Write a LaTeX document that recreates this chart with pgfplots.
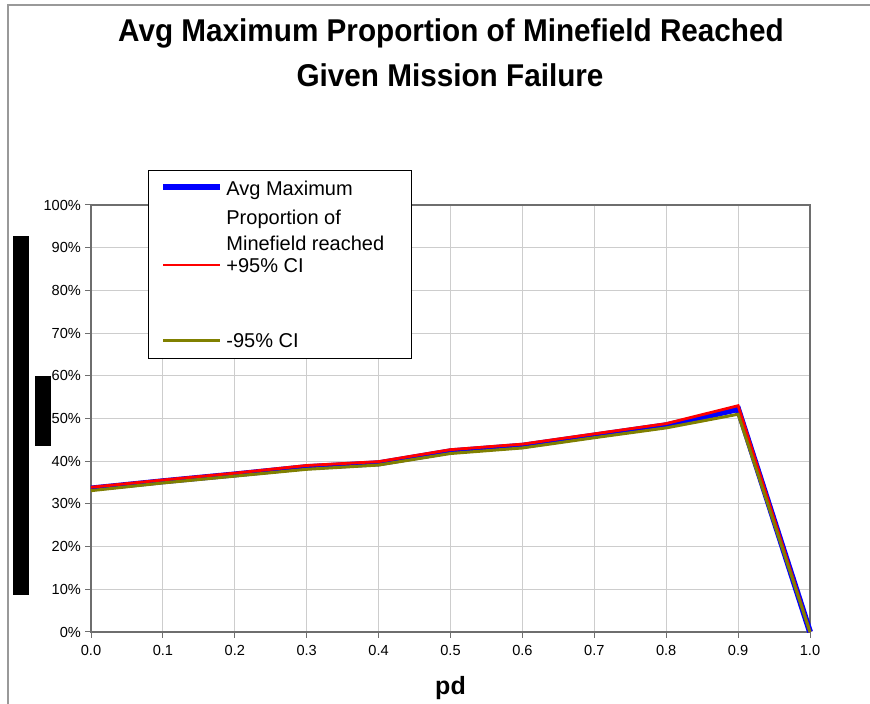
\documentclass[border=0pt]{standalone}
\usepackage{pgfplots}
\usepackage{pgfplotstable}
\pgfplotsset{compat=1.18}
\usepackage{fontspec}
\setmainfont{Liberation Sans}
\definecolor{olivecl}{RGB}{128,128,0}
\definecolor{framegray}{RGB}{110,110,110}
\definecolor{gridgray}{RGB}{205,205,205}

% pd, average, upper and lower 95% bound (percent)
\pgfplotstableread{
pd   avg   hi    lo
0.0  33.6  33.9  33.1
0.1  35.3  35.6  34.9
0.2  36.9  37.2  36.5
0.3  38.6  39.0  38.1
0.4  39.5  39.9  39.1
0.5  42.3  42.7  41.8
0.6  43.6  44.0  43.1
0.7  46.0  46.4  45.5
0.8  48.4  48.8  47.8
0.9  52.2  53.0  51.0
1.0  0.0   0.0   0.0
}\minedata

\begin{document}
\begin{tikzpicture}
\useasboundingbox (0,0) rectangle (435pt,352pt);
% outer chart frame (only top and left show)
\draw[gray!80, line width=0.75pt] (4pt,0) -- (4pt,349.5pt) -- (435pt,349.5pt);

% title
\node[font=\fontsize{15pt}{18pt}\selectfont\bfseries] at (225.5pt,335.5pt)
  {\scalebox{0.99}[1.05]{Avg Maximum Proportion of Minefield Reached}};
\node[font=\fontsize{15pt}{18pt}\selectfont\bfseries] at (225pt,314.5pt)
  {\scalebox{0.99}[1.05]{Given Mission Failure}};

\begin{axis}[
  at={(45.5pt,36pt)}, anchor=south west,
  scale only axis, width=359.5pt, height=213.5pt,
  xmin=0, xmax=1, ymin=0, ymax=100,
  clip=false,
  xtick={0,0.1,0.2,0.3,0.4,0.5,0.6,0.7,0.8,0.9,1},
  ytick={0,10,...,100},
  xticklabel style={/pgf/number format/.cd, fixed, fixed zerofill, precision=1},
  yticklabel={\pgfmathprintnumber{\tick}\%},
  yticklabel style={xshift=1.5pt},
  /pgf/number format/assume math mode=true,
  tick label style={font=\fontsize{7.3pt}{8.5pt}\selectfont},
  tick align=outside, major tick length=3pt,
  tick style={framegray, line width=0.5pt},
  xtick pos=bottom, ytick pos=left,
  grid=major, major grid style={gridgray, line width=0.5pt},
  axis line style={framegray, line width=1pt},
  xlabel={\textbf{pd}},
  xlabel style={font=\fontsize{12.5pt}{14pt}\selectfont, yshift=-3.5pt},
]
\addplot[blue, line width=3pt] table[x=pd, y=avg] {\minedata};
\addplot[red, line width=1.4pt] table[x=pd, y=hi] {\minedata};
\addplot[olivecl, line width=1.5pt] table[x=pd, y=lo] {\minedata};
\end{axis}

% legend
\draw[black, line width=0.5pt, fill=white] (74pt,172.5pt) rectangle (205.5pt,266.5pt);
\draw[blue, line width=3pt] (81.5pt,258.5pt) -- (110pt,258.5pt);
\draw[red, line width=1.3pt] (81.5pt,219.5pt) -- (110pt,219.5pt);
\draw[olivecl, line width=1.5pt] (81.5pt,181.5pt) -- (110pt,181.5pt);
\begin{scope}[every node/.style={anchor=base west, inner sep=0pt, font=\fontsize{10pt}{12pt}\selectfont}]
\node at (113pt,254.1pt) {Avg Maximum};
\node at (113pt,239.9pt) {Proportion of};
\node at (113pt,226.6pt) {Minefield reached};
\node at (113pt,215.8pt) {+95\% CI};
\node at (113pt,178.3pt) {-95\% CI};
\end{scope}

% black bars at the left edge
\fill[black] (6.5pt,54.5pt) rectangle (14.5pt,234pt);
\fill[black] (17.5pt,129pt) rectangle (25.5pt,164pt);
\end{tikzpicture}
\end{document}
